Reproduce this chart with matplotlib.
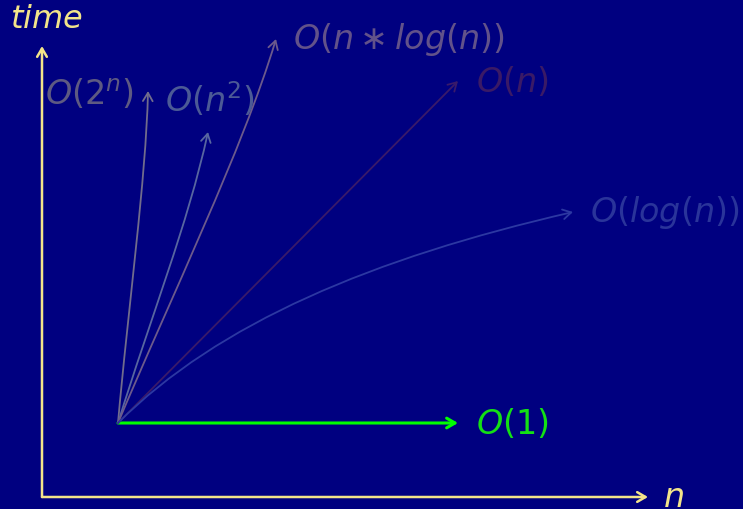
import matplotlib
matplotlib.use('Agg')
import matplotlib.pyplot as plt
from matplotlib.patches import FancyArrowPatch
from matplotlib.path import Path

plt.rcParams['mathtext.fontset'] = 'custom'
plt.rcParams['mathtext.rm'] = 'DejaVu Sans'
plt.rcParams['mathtext.it'] = 'DejaVu Sans:italic'

# diagram in pixel space (y down)
origin = (118, 424)
axis_origin = (42, 498)
axis_x_end = (648, 498)
axis_y_end = (42, 47)

labels = ['$O(1)$', '$O(2^n)$', '$O(n^2)$', '$O(n \\ast log(n))$', '$O(n)$', '$O(log(n))$']
ctrl1 = [(288, 424), (128, 310), (150, 320), (170, 300), (231, 310), (218, 324)]
ctrl2 = [(400, 424), (146, 180), (188, 225), (243, 150), (345, 196), (373, 259)]
ends = [(458, 424), (148, 92), (208, 133), (276, 40), (458, 82), (573, 213)]
label_pos = [(476, 424), (45, 95), (165, 100), (293, 40), (476, 82), (590, 213)]
colors = ['#00ff00', '#716c8c', '#5866a0', '#6c5a8c', '#3a1a6a', '#2c38a2']
text_colors = ['#14e014', '#5e5a82', '#4c5a96', '#62528a', '#3a1a66', '#2a349a']
widths = [2.2, 1.3, 1.3, 1.3, 1.3, 1.3]

fig = plt.figure(figsize=(7.43, 5.10), dpi=100, facecolor='#000080')
ax = fig.add_axes([0, 0, 1, 1])
ax.set_xlim(0, 743)
ax.set_ylim(510, 0)
ax.axis('off')
ax.set_facecolor('#000080')

yellow = '#f2e48a'
for end in [axis_x_end, axis_y_end]:
    ax.add_patch(FancyArrowPatch(axis_origin, end, arrowstyle='->,head_length=6,head_width=3.5',
                                 color=yellow, lw=1.8, shrinkA=0, shrinkB=0, mutation_scale=1))
ax.text(10, 20, '$time$', color=yellow, fontsize=23, va='center', ha='left')
ax.text(663, 498, '$n$', color=yellow, fontsize=24, va='center', ha='left')

for i in range(len(labels)):
    verts = [origin, ctrl1[i], ctrl2[i], ends[i]]
    p = Path(verts, [Path.MOVETO, Path.CURVE4, Path.CURVE4, Path.CURVE4])
    ax.add_patch(FancyArrowPatch(path=p, arrowstyle='->,head_length=6,head_width=3.5',
                                 color=colors[i], lw=widths[i], mutation_scale=1))
    ax.text(label_pos[i][0], label_pos[i][1], labels[i], color=text_colors[i], fontsize=24,
            va='center', ha='left')

fig.savefig('out.png', dpi=100, facecolor='#000080')
